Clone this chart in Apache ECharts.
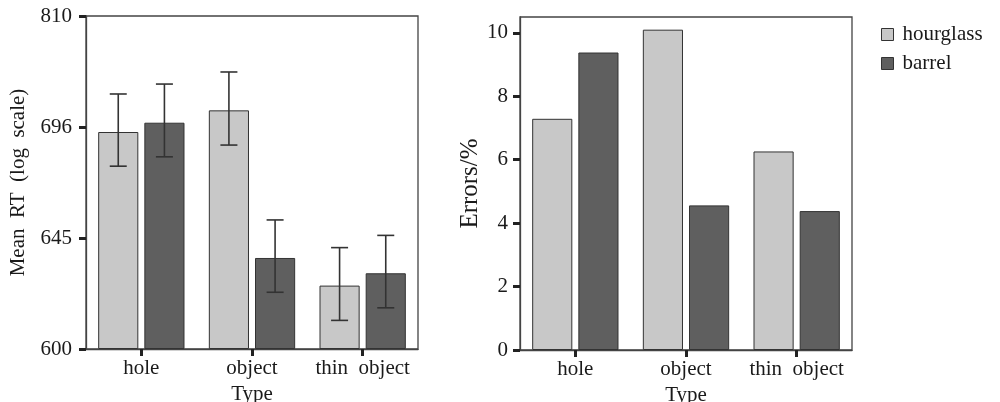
<!DOCTYPE html>
<html>
<head>
<meta charset="utf-8">
<script src="https://cdn.jsdelivr.net/npm/echarts@6/dist/echarts.min.js"></script>
<style>
html,body{margin:0;padding:0;background:#fff;}
#c{width:1000px;height:402px;}
</style>
</head>
<body>
<div id="c"></div>
<script>
// ---- data ----
const categories = ['hole', 'object', 'thin  object'];
const seriesNames = ['hourglass', 'barrel'];
// left panel: mean RT (ms), axis ticks are evenly spaced at these labels
const rtTickLabels = [600, 645, 696, 810];
const rtHourglass = [693.7, 713.1, 625.7];
const rtBarrel = [700.4, 636.9, 630.7];
const rtHourglassLow = [678.0, 687.7, 611.6];
const rtHourglassHigh = [729.9, 752.5, 641.1];
const rtBarrelLow = [682.3, 623.0, 616.7];
const rtBarrelHigh = [740.1, 653.3, 646.2];
// right panel: errors (%)
const errTicks = [0, 2, 4, 6, 8, 10];
const errHourglass = [7.29, 10.10, 6.26];
const errBarrel = [9.38, 4.56, 4.38];

// ---- helpers ----
const FONT = 'Liberation Serif';
const FS = 21;
const TXT = '#1a1a1a';
const LINE = '#444';
const TICK = '#222';
const LIGHT = '#c8c8c8';
const DARK = '#5f5f5f';
const CAT_GAP = 0.22;
const BAR_GAP = 0.15;

// position of an RT value on the evenly spaced (log-labelled) axis, in tick units
function rtToAxis(v) {
  const t = rtTickLabels;
  for (let i = 0; i < t.length - 1; i++) {
    if (v <= t[i + 1] || i === t.length - 2) {
      return i + (v - t[i]) / (t[i + 1] - t[i]);
    }
  }
  return 0;
}

const errData = [];
[[rtHourglassLow, rtHourglassHigh], [rtBarrelLow, rtBarrelHigh]].forEach(function (pair, si) {
  for (let i = 0; i < categories.length; i++) {
    errData.push([i, rtToAxis(pair[0][i]), rtToAxis(pair[1][i]), si]);
  }
});

function renderErr(params, api) {
  const ci = api.value(0), lo = api.value(1), hi = api.value(2), si = api.value(3);
  const pLo = api.coord([ci, lo]);
  const pHi = api.coord([ci, hi]);
  const catW = api.size([1, 0])[0];
  const barW = catW * (1 - CAT_GAP) / (2 + BAR_GAP);
  const off = (si === 0 ? -1 : 1) * (barW / 2 + barW * BAR_GAP / 2);
  const x = pLo[0] + off;
  const cap = 8.5;
  const style = { stroke: '#333', lineWidth: 1.6, fill: null };
  return {
    type: 'group',
    children: [
      { type: 'line', shape: { x1: x, y1: pLo[1], x2: x, y2: pHi[1] }, style: style },
      { type: 'line', shape: { x1: x - cap, y1: pLo[1], x2: x + cap, y2: pLo[1] }, style: style },
      { type: 'line', shape: { x1: x - cap, y1: pHi[1], x2: x + cap, y2: pHi[1] }, style: style }
    ]
  };
}

const axisLabelStyle = { color: TXT, fontFamily: FONT, fontSize: FS };
const tickStyle = { show: true, length: 7, lineStyle: { color: TICK, width: 3 } };

function xAxisOf(gi) {
  return {
    gridIndex: gi, type: 'category', data: categories,
    name: 'Type', nameLocation: 'middle', nameGap: 29,
    nameTextStyle: axisLabelStyle,
    axisLine: { lineStyle: { color: LINE, width: 1.3 } },
    axisTick: { show: true, alignWithLabel: true, interval: 0, length: 7, lineStyle: { color: TICK, width: 3 } },
    axisLabel: Object.assign({ margin: 9, interval: 0, hideOverlap: false }, axisLabelStyle),
    splitLine: { show: false }
  };
}

function barSeries(name, data, color, gi) {
  return {
    name: name, type: 'bar', xAxisIndex: gi, yAxisIndex: gi,
    data: data,
    barCategoryGap: (CAT_GAP * 100) + '%', barGap: (BAR_GAP * 100) + '%',
    itemStyle: { color: color, borderColor: '#333', borderWidth: 1 }
  };
}

const chart = echarts.init(document.getElementById('c'), null, { renderer: 'canvas' });
chart.setOption({
  animation: false,
  backgroundColor: '#fff',
  textStyle: { fontFamily: FONT },
  legend: {
    orient: 'vertical',
    left: 881,
    top: 24,
    padding: 0,
    itemWidth: 12,
    itemHeight: 12,
    itemGap: 8,
    icon: 'rect',
    data: seriesNames,
    textStyle: { color: TXT, fontFamily: FONT, fontSize: FS, lineHeight: 21, padding: [0, 0, 0, 4] },
    itemStyle: { borderColor: '#333', borderWidth: 1 }
  },
  grid: [
    { left: 86, right: 582, top: 16, bottom: 53, containLabel: false, outerBoundsMode: 'none', show: true, borderColor: LINE, borderWidth: 1.3, backgroundColor: 'transparent' },
    { left: 520, right: 148, top: 17, bottom: 52, containLabel: false, outerBoundsMode: 'none', show: true, borderColor: LINE, borderWidth: 1.3, backgroundColor: 'transparent' }
  ],
  xAxis: [xAxisOf(0), xAxisOf(1)],
  yAxis: [
    {
      gridIndex: 0, type: 'value', min: 0, max: rtTickLabels.length - 1, interval: 1,
      name: 'Mean  RT  (log  scale)', nameLocation: 'middle', nameGap: 57, nameRotate: 90,
      nameTextStyle: axisLabelStyle,
      axisLine: { show: true, lineStyle: { color: LINE, width: 1.3 } },
      axisTick: tickStyle,
      axisLabel: Object.assign({ margin: 14, formatter: function (v) { return String(rtTickLabels[Math.round(v)]); } }, axisLabelStyle),
      splitLine: { show: false }
    },
    {
      gridIndex: 1, type: 'value', min: 0, max: 10.5,
      name: 'Errors/%', nameLocation: 'middle', nameGap: 25, nameRotate: 90,
      nameTextStyle: { color: TXT, fontFamily: FONT, fontSize: 25 },
      axisLine: { show: true, lineStyle: { color: LINE, width: 1.3 } },
      axisTick: Object.assign({ customValues: errTicks }, tickStyle),
      axisLabel: Object.assign({ margin: 12, customValues: errTicks }, axisLabelStyle),
      splitLine: { show: false }
    }
  ],
  series: [
    barSeries(seriesNames[0], rtHourglass.map(rtToAxis), LIGHT, 0),
    barSeries(seriesNames[1], rtBarrel.map(rtToAxis), DARK, 0),
    {
      name: 'err', type: 'custom', xAxisIndex: 0, yAxisIndex: 0,
      renderItem: renderErr, data: errData, z: 5
    },
    barSeries(seriesNames[0], errHourglass, LIGHT, 1),
    barSeries(seriesNames[1], errBarrel, DARK, 1)
  ]
});
</script>
</body>
</html>
